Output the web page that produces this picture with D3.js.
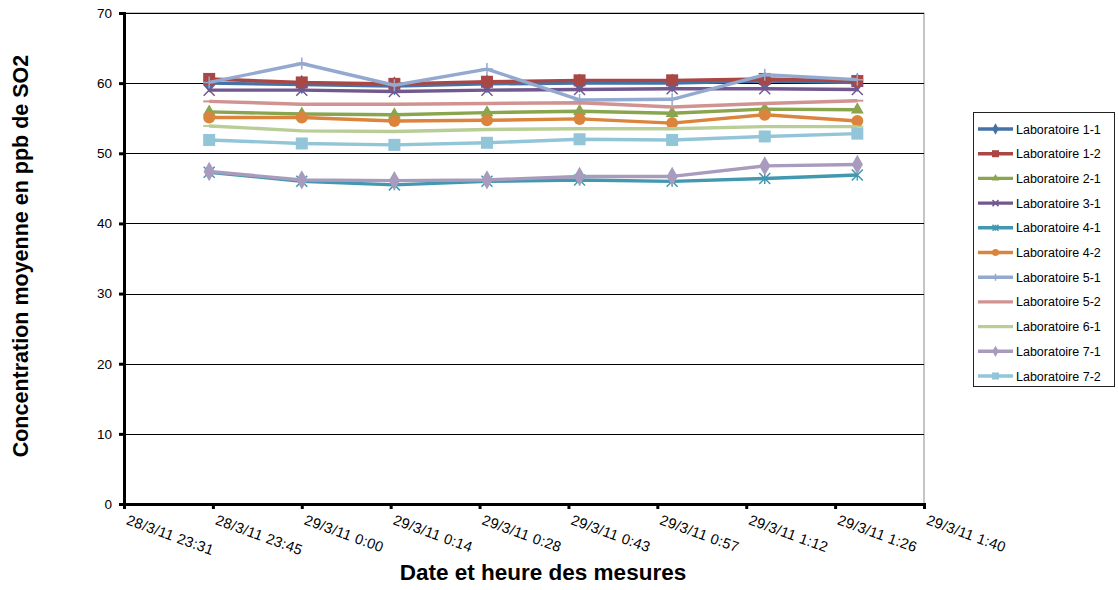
<!DOCTYPE html>
<html>
<head>
<meta charset="utf-8">
<script src="https://cdn.jsdelivr.net/npm/d3@7"></script>
<style>
  body { margin: 0; background: #fff; }
  svg { font-family: "Liberation Sans", Arial, sans-serif; }
</style>
</head>
<body>
<div id="chart-area"></div>
<script>
// measurement times (8 points)
var times = ["2011-03-28T23:45", "2011-03-29T00:00", "2011-03-29T00:15", "2011-03-29T00:30",
             "2011-03-29T00:45", "2011-03-29T01:00", "2011-03-29T01:15", "2011-03-29T01:30"];

var labNames = ["Laboratoire 1-1", "Laboratoire 1-2", "Laboratoire 2-1", "Laboratoire 3-1",
                "Laboratoire 4-1", "Laboratoire 4-2", "Laboratoire 5-1", "Laboratoire 5-2",
                "Laboratoire 6-1", "Laboratoire 7-1", "Laboratoire 7-2"];

var lab11 = [60.0, 59.8, 59.6, 59.9, 60.0, 60.0, 60.3, 60.1];
var lab12 = [60.6, 60.1, 59.9, 60.2, 60.4, 60.4, 60.6, 60.3];
var lab21 = [55.9, 55.6, 55.5, 55.8, 56.0, 55.7, 56.3, 56.2];
var lab31 = [59.0, 59.0, 58.8, 59.0, 59.1, 59.2, 59.2, 59.1];
var lab41 = [47.3, 46.0, 45.5, 46.0, 46.2, 46.0, 46.4, 46.9];
var lab42 = [55.1, 55.1, 54.6, 54.7, 54.9, 54.3, 55.5, 54.6];
var lab51 = [60.1, 62.8, 59.7, 62.0, 57.6, 57.7, 61.2, 60.5];
var lab52 = [57.4, 57.0, 57.0, 57.1, 57.2, 56.6, 57.1, 57.5];
var lab61 = [53.9, 53.2, 53.1, 53.4, 53.5, 53.5, 53.8, 53.8];
var lab71 = [47.4, 46.2, 46.1, 46.2, 46.7, 46.7, 48.2, 48.4];
var lab72 = [51.9, 51.4, 51.2, 51.5, 52.0, 51.9, 52.4, 52.8];

var xTickLabels = ["28/3/11 23:31", "28/3/11 23:45", "29/3/11 0:00", "29/3/11 0:14", "29/3/11 0:28",
                   "29/3/11 0:43", "29/3/11 0:57", "29/3/11 1:12", "29/3/11 1:26", "29/3/11 1:40"];
var yTicks = [0, 10, 20, 30, 40, 50, 60, 70];

var seriesValues = [lab11, lab12, lab21, lab31, lab41, lab42, lab51, lab52, lab61, lab71, lab72];
var colors = ["#4572A7", "#AA4643", "#89A54E", "#71588F", "#4198AF", "#DB843D",
              "#93A9CF", "#D19392", "#B9CD96", "#A99BBD", "#92C5D8"];
var markers = ["diamond", "square", "triangle", "x", "star", "circle", "plus", "dash", "dash", "diamond", "square"];

var width = 1118, height = 590;
var plot = { left: 124, right: 924, top: 13, bottom: 504 };

var svg = d3.select("#chart-area")
    .append("svg")
    .attr("width", width)
    .attr("height", height);

var parse = d3.timeParse("%Y-%m-%dT%H:%M");
var tStart = new Date(2011, 2, 28, 23, 31, 12);
var step = 14.4 * 60 * 1000;
var tEnd = new Date(tStart.getTime() + 9 * step);
var tickDates = d3.range(10).map(function(i) { return new Date(tStart.getTime() + i * step); });

var x = d3.scaleTime().domain([tStart, tEnd]).range([plot.left, plot.right]);
var y = d3.scaleLinear().domain([0, 70]).range([plot.bottom, plot.top]);

// plot area border
svg.append("rect")
    .attr("x", plot.left).attr("y", plot.top)
    .attr("width", plot.right - plot.left).attr("height", plot.bottom - plot.top)
    .attr("fill", "none").attr("stroke", "#8c8c8c").attr("stroke-width", 1);

// gridlines
svg.append("g")
    .selectAll("line")
    .data(yTicks.slice(1))
    .enter().append("line")
    .attr("x1", plot.left).attr("x2", plot.right)
    .attr("y1", function(d) { return Math.round(y(d)) + 0.5; })
    .attr("y2", function(d) { return Math.round(y(d)) + 0.5; })
    .attr("stroke", "#000").attr("stroke-width", 1);

// y axis
var yAxis = svg.append("g")
    .attr("transform", "translate(" + plot.left + ",0)")
    .call(d3.axisLeft(y).tickValues(yTicks).tickSize(5).tickPadding(7).tickFormat(d3.format("d")));
yAxis.select(".domain").attr("stroke", "#000").attr("stroke-width", 3);
yAxis.selectAll(".tick line").attr("stroke", "#000").attr("stroke-width", 3);
yAxis.selectAll("text").attr("font-size", "13.5px").attr("fill", "#000")
    .attr("font-family", "Liberation Sans, Arial, sans-serif");

// x axis
var xAxis = svg.append("g")
    .attr("transform", "translate(0," + plot.bottom + ")")
    .call(d3.axisBottom(x).tickValues(tickDates).tickSize(5)
        .tickFormat(function(d, i) { return xTickLabels[i]; }));
xAxis.select(".domain").attr("stroke", "#000").attr("stroke-width", 3);
xAxis.selectAll(".tick line").attr("stroke", "#000").attr("stroke-width", 3);
xAxis.selectAll("text")
    .attr("font-size", "14.5px").attr("fill", "#000")
    .attr("font-family", "Liberation Sans, Arial, sans-serif")
    .attr("text-anchor", "start")
    .attr("letter-spacing", "0.3px")
    .attr("dy", null)
    .attr("y", 0)
    .attr("transform", "translate(1,20) rotate(20)");

// marker drawing
function drawMarker(sel, type, color, s) {
    if (type === "diamond") {
        sel.append("path").attr("d", d3.symbol(d3.symbolDiamond, s * s * 0.75)())
            .attr("fill", color);
    } else if (type === "square") {
        sel.append("rect").attr("x", -s / 2).attr("y", -s / 2).attr("width", s).attr("height", s)
            .attr("fill", color);
    } else if (type === "triangle") {
        sel.append("path").attr("d", d3.symbol(d3.symbolTriangle, s * s * 0.5)())
            .attr("fill", color);
    } else if (type === "circle") {
        sel.append("circle").attr("r", s / 2).attr("fill", color);
    } else if (type === "x" || type === "star") {
        var h = s / 2 - 0.5;
        var d = "M" + (-h) + "," + (-h) + "L" + h + "," + h + "M" + (-h) + "," + h + "L" + h + "," + (-h);
        if (type === "star") d += "M0," + (-h) + "L0," + h;
        sel.append("path").attr("d", d).attr("stroke", color).attr("stroke-width", 1.5).attr("fill", "none");
    } else if (type === "plus") {
        var p = s / 2;
        sel.append("path").attr("d", "M0," + (-p) + "L0," + p + "M" + (-p) + ",0L" + p + ",0")
            .attr("stroke", color).attr("stroke-width", 1.5);
    } else if (type === "dash") {
        sel.append("path").attr("d", "M" + (-s / 2) + ",0L" + (s / 2) + ",0")
            .attr("stroke", color).attr("stroke-width", 2);
    }
}

var line = d3.line()
    .x(function(d) { return x(d.t); })
    .y(function(d) { return y(d.v); });

seriesValues.forEach(function(vals, k) {
    var pts = vals.map(function(v, i) { return { t: parse(times[i]), v: v }; });
    var g = svg.append("g");
    g.append("path")
        .datum(pts)
        .attr("d", line)
        .attr("fill", "none")
        .attr("stroke", colors[k])
        .attr("stroke-width", 3.4)
        .attr("stroke-linejoin", "round");
    g.selectAll("g.m")
        .data(pts)
        .enter().append("g")
        .attr("class", "m")
        .attr("transform", function(d) { return "translate(" + x(d.t) + "," + y(d.v) + ")"; })
        .each(function() { drawMarker(d3.select(this), markers[k], colors[k], 12); });
});

// legend
var legend = svg.append("g");
legend.append("rect")
    .attr("x", 973.5).attr("y", 112.5).attr("width", 141).attr("height", 274)
    .attr("fill", "#fff").attr("stroke", "#222").attr("stroke-width", 1);

labNames.forEach(function(name, k) {
    var ly = 129 + k * 24.7;
    var lg = legend.append("g");
    lg.append("line")
        .attr("x1", 978).attr("x2", 1013).attr("y1", ly).attr("y2", ly)
        .attr("stroke", colors[k]).attr("stroke-width", 3.4);
    var mg = lg.append("g").attr("transform", "translate(995.5," + ly + ")");
    drawMarker(mg, markers[k], colors[k], 7);
    lg.append("text")
        .attr("x", 1016).attr("y", ly + 4.5)
        .attr("font-size", "12.5px")
        .text(name);
});

// axis titles
svg.append("text")
    .text("Date et heure des mesures")
    .attr("x", 543).attr("y", 580)
    .attr("text-anchor", "middle")
    .attr("font-size", "22.5px")
    .attr("font-weight", "bold");

svg.append("text")
    .text("Concentration moyenne en ppb de SO2")
    .attr("transform", "translate(28,256) rotate(-90)")
    .attr("text-anchor", "middle")
    .attr("font-size", "21.5px")
    .attr("font-weight", "bold");
</script>
</body>
</html>
